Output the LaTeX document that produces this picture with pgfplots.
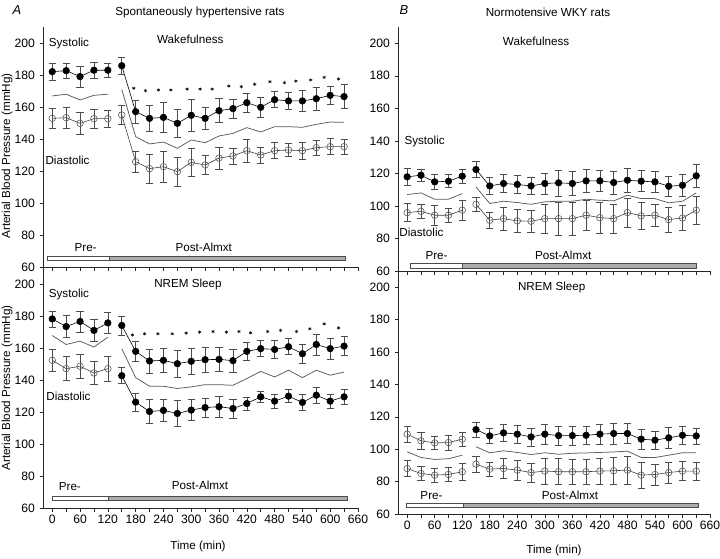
\documentclass[border=0pt]{standalone}
\usepackage{pgfplots}
\pgfplotsset{compat=1.18}
\usepackage{fontspec}
\setmainfont{Liberation Sans}
\setsansfont{Liberation Sans}
\newcommand{\fs}{\fontsize{11.7}{14}\selectfont}
\newcommand{\tfs}{\fontsize{12.2}{14.5}\selectfont}
\tikzset{
  prebar/.style={draw=black!70, line width=0.5pt, fill=white},
  postbar/.style={draw=black!70, line width=0.5pt, fill=black!32},
}
\pgfplotsset{
  panel/.style={
    scale only axis, anchor=south west, clip=false,
    axis x line*=bottom, axis y line*=left,
    xmin=-20, xmax=660, ymin=60, ymax=210,
    xtick={0,60,...,660}, minor xtick={30,90,...,630},
    ytick={60,80,...,200},
    tick align=outside, major tick length=3.5bp, minor tick length=3.5bp,
    tick style={black!85, line width=0.6pt},
    axis line style={black!85, line width=0.7pt},
    tick label style={font=\tfs},
    /pgf/number format/assume math mode=true,
    yticklabel style={xshift=-1bp},
  },
  ebar/.style={error bars/.cd, y dir=both, y explicit,
    error bar style={line width=0.6pt, black!70},
    error mark=-,
    error mark options={rotate=90, mark size=3.6pt, line width=0.6pt, black!70}},
  sys/.style={black, line width=0.6pt, mark=*, mark size=3.3pt,
    mark options={fill=black, draw=black, solid}, ebar},
  opn/.style={black!75, line width=0.6pt, mark=o, mark size=3.3pt,
    mark options={draw=black!65, fill=none, line width=0.6pt, solid}, ebar},
  mean/.style={black!65, line width=0.75pt, mark=none},
  stars/.style={only marks, mark=asterisk, mark size=1.7pt, black, mark options={line width=0.5pt}},
}
\begin{document}
\begin{tikzpicture}[font=\fs]
\useasboundingbox (0,0) rectangle (720bp,-559bp);

% ---------------- Top-left: SHR wakefulness
\begin{axis}[panel, at={(43bp,-267bp)}, width=315bp, height=240bp, xticklabels={}]
\addplot[mean] coordinates {(0,166.9)(30,168)(60,164.4)(90,167.3)(120,168)};
\addplot[mean] coordinates {(150,171)(180,141.5)(210,136.9)(240,138.1)(270,134.2)(300,139.4)(330,137.7)(360,141.9)(390,143.5)(420,147.1)(450,144.4)(480,147.7)(510,147.7)(540,147.3)(570,149.2)(600,150.6)(630,150.4)};
\addplot[sys] coordinates {(0,182.1)+-(0,5.5)(30,182.7)+-(0,4.5)(60,179)+-(0,6.5)(90,183)+-(0,5)(120,183)+-(0,4.5)};
\addplot[sys] coordinates {(150,185.8)+-(0,5.5)(180,157.1)+-(0,7)(210,152.9)+-(0,8)(240,153.5)+-(0,9.5)(270,149.8)+-(0,9)(300,154.8)+-(0,10)(330,152.9)+-(0,7)(360,157.7)+-(0,7.5)(390,159)+-(0,6)(420,162.7)+-(0,6)(450,159.8)+-(0,6.5)(480,164.6)+-(0,5)(510,163.8)+-(0,5.5)(540,163.8)+-(0,6.5)(570,165.2)+-(0,7)(600,167.3)+-(0,5.5)(630,166.5)+-(0,7.5)};
\addplot[opn] coordinates {(0,152.9)+-(0,6.5)(30,153.3)+-(0,6.5)(60,149.8)+-(0,7)(90,152.7)+-(0,6)(120,152.7)+-(0,5.5)};
\addplot[opn] coordinates {(150,155)+-(0,6)(180,125.8)+-(0,6.5)(210,121.5)+-(0,9)(240,122.7)+-(0,9.5)(270,119.6)+-(0,9)(300,125.4)+-(0,9)(330,123.75)+-(0,6)(360,128.1)+-(0,7)(390,129.4)+-(0,5)(420,132.7)+-(0,7)(450,130)+-(0,5)(480,132.7)+-(0,5)(510,133.1)+-(0,4)(540,132.7)+-(0,5.5)(570,134.6)+-(0,4.5)(600,135.2)+-(0,5)(630,135.2)+-(0,4.5)};
\addplot[stars] coordinates {(176,171.7)(201,170.2)(229,170.6)(256,170.6)(291,171.2)(319,171.2)(345,171.2)(381,173.1)(408,172.7)(437,174.2)(470,175.8)(501,175.2)(526,176.2)(558,176.9)(587,178.5)(618,177.5)};
\draw[prebar] (axis cs:-10,64) rectangle (axis cs:123,66.5);
\draw[postbar] (axis cs:123,64) rectangle (axis cs:632,66.5);
\node at (axis cs:72,72) {Pre-};
\node at (axis cs:327,72) {Post-Almxt};
\node at (axis cs:36,199.4) {Systolic};
\node at (axis cs:33,126.9) {Diastolic};
\node at (axis cs:298,202.5) {Wakefulness};
\end{axis}

% ---------------- Bottom-left: SHR NREM
\begin{axis}[panel, at={(43bp,-508bp)}, width=315bp, height=240bp]
\addplot[mean] coordinates {(0,167.8)(30,162.2)(60,164.3)(90,160.6)(120,166.8)};
\addplot[mean] coordinates {(150,159.6)(180,141.5)(210,136.1)(240,136.1)(270,134.7)(300,135.7)(330,137.1)(360,137.1)(390,136.7)(420,140.9)(450,145.4)(480,141.9)(510,146.1)(540,141.5)(570,146.1)(600,143)(630,145)};
\addplot[sys] coordinates {(0,178.2)+-(0,5)(30,173.4)+-(0,7)(60,176.6)+-(0,6.5)(90,171)+-(0,7)(120,175.7)+-(0,6.5)};
\addplot[sys] coordinates {(150,174.1)+-(0,6)(180,157.9)+-(0,6.5)(210,151.9)+-(0,7.5)(240,152.3)+-(0,7.5)(270,150.2)+-(0,8.5)(300,151.7)+-(0,8)(330,152.7)+-(0,8)(360,152.9)+-(0,7.5)(390,152.1)+-(0,7)(420,157.9)+-(0,5.5)(450,159.6)+-(0,5)(480,159.1)+-(0,5.5)(510,160.8)+-(0,5)(540,156.4)+-(0,6)(570,162.2)+-(0,6.5)(600,159.6)+-(0,6.5)(630,161.2)+-(0,6)};
\addplot[opn] coordinates {(0,152.3)+-(0,7)(30,147.1)+-(0,7.5)(60,148.6)+-(0,7.5)(90,144.4)+-(0,7)(120,147.1)+-(0,8)};
\addplot[sys] coordinates {(150,142.7)+-(0,5)(180,126.2)+-(0,5.5)(210,120.3)+-(0,7.5)(240,121)+-(0,7)(270,119.1)+-(0,8)(300,121.2)+-(0,6.5)(330,122.8)+-(0,6)(360,123.3)+-(0,6.5)(390,122.2)+-(0,6)(420,125.3)+-(0,4)(450,129.5)+-(0,3.5)(480,126.8)+-(0,4.5)(510,129.9)+-(0,4)(540,126)+-(0,5)(570,130.5)+-(0,5)(600,126.8)+-(0,4.5)(630,129.5)+-(0,4.5)};
\addplot[stars] coordinates {(173,168.1)(199,168.9)(228,168.9)(259,168.9)(289,169.3)(318,169.9)(347,170.3)(376,169.9)(403,170.3)(428,169.5)(465,170.3)(493,171)(527,170.3)(556,172)(587,175.1)(618,172.6)};
\draw[prebar] (axis cs:0,64.7) rectangle (axis cs:121,67.2);
\draw[postbar] (axis cs:121,64.7) rectangle (axis cs:636,67.2);
\node at (axis cs:38,73.5) {Pre-};
\node at (axis cs:319,73.9) {Post-Almxt};
\node at (axis cs:36,193.2) {Systolic};
\node at (axis cs:35,130.1) {Diastolic};
\node at (axis cs:293,199.6) {NREM Sleep};
\end{axis}

% ---------------- Top-right: WKY wakefulness
\begin{axis}[panel, at={(398bp,-271bp)}, width=312bp, height=244bp, xticklabels={}]
\addplot[mean] coordinates {(0,107)(30,108)(60,104.1)(90,104.1)(120,107.6)};
\addplot[mean] coordinates {(150,111.7)(180,101.5)(210,102.9)(240,102.1)(270,101)(300,102.5)(330,102.9)(360,102.9)(390,104.1)(420,103.5)(450,103.1)(480,106.6)(510,104.5)(540,104.5)(570,101.9)(600,102.9)(630,108)};
\addplot[sys] coordinates {(0,117.9)+-(0,5)(30,118.9)+-(0,3.5)(60,114.8)+-(0,4.5)(90,115.2)+-(0,4)(120,118.3)+-(0,4.5)};
\addplot[sys] coordinates {(150,122.4)+-(0,5)(180,112.3)+-(0,5)(210,113.8)+-(0,5.5)(240,113.2)+-(0,5.5)(270,112.3)+-(0,5)(300,113.8)+-(0,6.5)(330,114.2)+-(0,8)(360,113.8)+-(0,7.5)(390,115.4)+-(0,7)(420,115.4)+-(0,6.5)(450,114.4)+-(0,7)(480,115.8)+-(0,7.5)(510,115.2)+-(0,6.5)(540,114.8)+-(0,6.5)(570,112.1)+-(0,6)(600,112.7)+-(0,6.5)(630,118.5)+-(0,7)};
\addplot[opn] coordinates {(0,95.9)+-(0,5.5)(30,96.7)+-(0,4.5)(60,94.3)+-(0,6)(90,94.3)+-(0,4.5)(120,97.4)+-(0,6)};
\addplot[opn] coordinates {(150,101)+-(0,4.5)(180,91.2)+-(0,5)(210,92.2)+-(0,7)(240,90.8)+-(0,7)(270,90.6)+-(0,6.5)(300,92.2)+-(0,9)(330,92.2)+-(0,10)(360,92.2)+-(0,10)(390,94.3)+-(0,9)(420,92.8)+-(0,9.5)(450,92.2)+-(0,9)(480,95.9)+-(0,9)(510,93.9)+-(0,8.5)(540,94.3)+-(0,7)(570,91.6)+-(0,7.5)(600,92.6)+-(0,7.5)(630,97.4)+-(0,8.5)};
\draw[prebar] (axis cs:6,62) rectangle (axis cs:120,64.5);
\draw[postbar] (axis cs:120,62) rectangle (axis cs:630,64.5);
\node at (axis cs:64,69.5) {Pre-};
\node at (axis cs:340,69.8) {Post-Almxt};
\node at (axis cs:38,139.8) {Systolic};
\node at (axis cs:31,83.6) {Diastolic};
\node at (axis cs:281,201) {Wakefulness};
\end{axis}

% ---------------- Bottom-right: WKY NREM
\begin{axis}[panel, at={(398bp,-514bp)}, width=312bp, height=243bp]
\addplot[mean] coordinates {(0,98.4)(30,94.9)(60,93.7)(90,94.1)(120,96.3)};
\addplot[mean] coordinates {(150,101.5)(180,97.8)(210,99)(240,98)(270,96.7)(300,97.8)(330,96.9)(360,97.5)(390,97.7)(420,98)(450,98.3)(480,98.8)(510,94.9)(540,94.9)(570,96.3)(600,97.8)(630,97.8)};
\addplot[opn] coordinates {(0,109.3)+-(0,5)(30,105.2)+-(0,5)(60,103.9)+-(0,4)(90,104.1)+-(0,4.5)(120,106.2)+-(0,4.5)};
\addplot[sys] coordinates {(150,112.1)+-(0,4.5)(180,108.2)+-(0,4.5)(210,110.1)+-(0,5)(240,109.3)+-(0,5.5)(270,107.6)+-(0,5.5)(300,109.3)+-(0,6)(330,108.4)+-(0,6)(360,108.4)+-(0,6)(390,108.6)+-(0,5.5)(420,109.3)+-(0,6)(450,109.7)+-(0,6.5)(480,109.7)+-(0,6)(510,106.2)+-(0,6)(540,105.6)+-(0,5.5)(570,107)+-(0,6.5)(600,108.6)+-(0,5.5)(630,108.2)+-(0,5)};
\addplot[opn] coordinates {(0,88.1)+-(0,5)(30,85)+-(0,4.5)(60,84)+-(0,4.5)(90,84.4)+-(0,4.5)(120,86.1)+-(0,5.5)};
\addplot[opn] coordinates {(150,90.8)+-(0,5)(180,87.7)+-(0,4.5)(210,88.1)+-(0,6)(240,87.1)+-(0,6)(270,85.6)+-(0,6)(300,86.5)+-(0,8)(330,86.1)+-(0,8)(360,86.1)+-(0,7.5)(390,86.1)+-(0,7.5)(420,86.5)+-(0,8)(450,86.7)+-(0,8.5)(480,87.1)+-(0,8.5)(510,84)+-(0,8)(540,84.4)+-(0,6.5)(570,85.6)+-(0,6.5)(600,86.5)+-(0,6)(630,86.5)+-(0,5.5)};
\draw[prebar] (axis cs:-3,64) rectangle (axis cs:122,66.6);
\draw[postbar] (axis cs:122,64) rectangle (axis cs:635,66.6);
\node at (axis cs:53,71.2) {Pre-};
\node at (axis cs:355,71.5) {Post-Almxt};
\node at (axis cs:315,200) {NREM Sleep};
\end{axis}

% ---------------- Outer text
\node[font=\fontsize{13}{15}\selectfont\itshape] at (17bp,-10bp) {A};
\node at (200bp,-12bp) {Spontaneously hypertensive rats};
\node[font=\fontsize{13}{15}\selectfont\itshape] at (404bp,-10bp) {B};
\node at (548bp,-12bp) {Normotensive WKY rats};
\node[rotate=90] at (7bp,-156bp) {Arterial Blood Pressure (mmHg)};
\node[rotate=90] at (7bp,-388bp) {Arterial Blood Pressure (mmHg)};
\node at (198bp,-546bp) {Time (min)};
\node at (554bp,-550bp) {Time (min)};
\end{tikzpicture}
\end{document}
